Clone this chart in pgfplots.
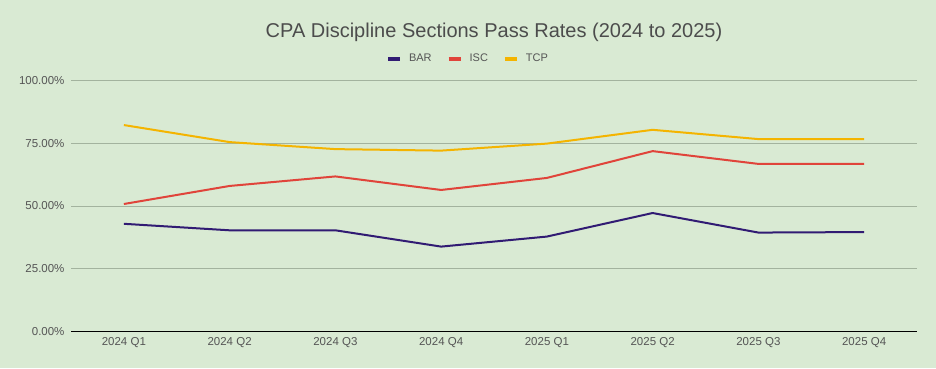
\documentclass[border=0pt]{standalone}
\usepackage{pgfplots}
\pgfplotsset{compat=1.18}
\usepackage{fontspec}
\setmainfont{Liberation Sans}
\definecolor{bg}{HTML}{D9EAD3}
\definecolor{barc}{HTML}{311B73}
\definecolor{iscc}{HTML}{E0443A}
\definecolor{tcpc}{HTML}{F4B400}
\definecolor{gridc}{HTML}{A3B39E}
\definecolor{txt}{HTML}{555555}
\begin{document}
\begin{tikzpicture}[x=1pt,y=1pt]
\path[fill=bg] (0,0) rectangle (936,368);
\begin{axis}[
  at={(71pt,36.7pt)}, anchor=south west,
  scale only axis, width=846pt, height=250.6pt,
  xmin=-0.5, xmax=7.5, ymin=0, ymax=100,
  axis x line*=bottom, axis y line*=left,
  x axis line style={black, line width=1pt},
  y axis line style={draw=none},
  xtick={0,...,7},
  xticklabels={2024 Q1,2024 Q2,2024 Q3,2024 Q4,2025 Q1,2025 Q2,2025 Q3,2025 Q4},
  ytick={0,25,50,75,100},
  yticklabels={0.00\%,25.00\%,50.00\%,75.00\%,100.00\%},
  ymajorgrids, grid style={gridc, line width=1pt},
  major tick length=0pt,
  tick label style={font=\fontsize{11.5}{13}\selectfont, text=txt},
  yticklabel style={xshift=-3pt},
  xticklabel style={yshift=-3pt},
  title={CPA Discipline Sections Pass Rates (2024 to 2025)},
  title style={font=\fontsize{20}{23}\selectfont, text=txt!90!black, at={(0.5,1)}, anchor=center, yshift=42.7pt},
  legend columns=3,
  legend style={at={(0.5,1)}, anchor=center, yshift=22pt, xshift=-26pt, draw=none, fill=none,
    font=\fontsize{11}{13}\selectfont, text=txt,
    /tikz/every odd column/.append style={column sep=5pt},
    /tikz/every even column/.append style={column sep=13pt}},
  legend image code/.code={\draw[line width=4pt] (0pt,0pt) -- (12pt,0pt);},
  every axis plot/.append style={line width=2pt, line join=round},
  clip=false,
]
\addplot[barc] coordinates {(0,42.9) (1,40.3) (2,40.3) (3,33.8) (4,37.8) (5,47.2) (6,39.4) (7,39.6)};
\addlegendentry{BAR}
\addplot[iscc] coordinates {(0,50.8) (1,58.0) (2,61.8) (3,56.4) (4,61.2) (5,71.9) (6,66.8) (7,66.8)};
\addlegendentry{ISC}
\addplot[tcpc] coordinates {(0,82.3) (1,75.5) (2,72.7) (3,72.1) (4,74.9) (5,80.4) (6,76.7) (7,76.7)};
\addlegendentry{TCP}
\end{axis}
\end{tikzpicture}
\end{document}
